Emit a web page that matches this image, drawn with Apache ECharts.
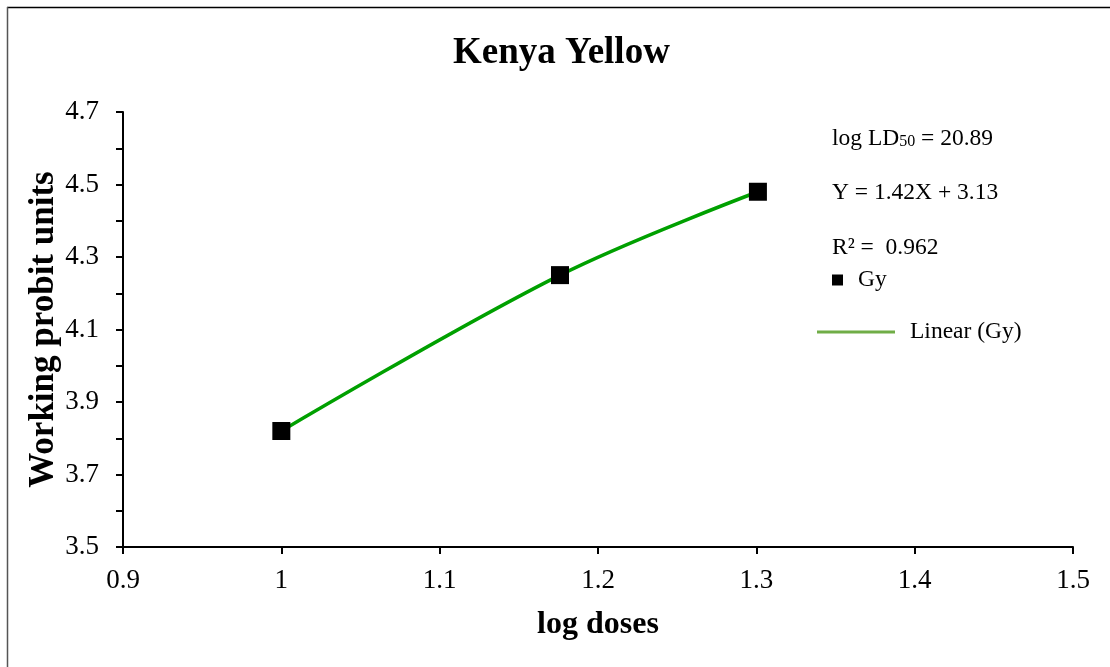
<!DOCTYPE html>
<html>
<head>
<meta charset="utf-8">
<title>Kenya Yellow</title>
<script src="https://cdn.jsdelivr.net/npm/echarts@6/dist/echarts.min.js"></script>
<style>
  html, body { margin: 0; padding: 0; background: #ffffff; }
  #chart { width: 1110px; height: 667px; }
</style>
</head>
<body>
<div id="chart"></div>
<script>
// Probit analysis data: log doses vs working probit units
const logDoses = [1.0, 1.176, 1.301];
const probits = [3.82, 4.25, 4.48];

// Regression summary printed beside the plot
const ld50Value = '20.89';
const slope = '1.42';
const intercept = '3.13';
const rSquared = '0.962';

const serif = '"Liberation Serif", "Times New Roman", serif';
const points = logDoses.map((x, i) => [x, probits[i]]);

const chart = echarts.init(document.getElementById('chart'), null, { renderer: 'canvas' });

chart.setOption({
  backgroundColor: '#ffffff',
  animation: false,
  title: {
    text: 'Kenya Yellow',
    left: 448,
    top: 30,
    textStyle: { fontFamily: serif, fontSize: 37, fontWeight: 'bold', color: '#000' }
  },
  grid: { left: 123, right: 37, top: 112, bottom: 120, containLabel: false },
  xAxis: {
    type: 'value',
    min: 0.9,
    max: 1.5,
    interval: 0.1,
    name: 'log doses',
    nameLocation: 'middle',
    nameGap: 62,
    nameMoveOverlap: false,
    nameTextStyle: { fontFamily: serif, fontSize: 32, fontWeight: 'bold', color: '#000' },
    axisLine: { show: true, onZero: false, lineStyle: { color: '#000', width: 2 } },
    axisTick: { show: true, inside: false, length: 7, lineStyle: { color: '#000', width: 2 } },
    axisLabel: {
      margin: 20,
      fontFamily: serif, fontSize: 27, color: '#000',
      formatter: v => String(+v.toFixed(1))
    },
    splitLine: { show: false }
  },
  yAxis: {
    type: 'value',
    min: 3.5,
    max: 4.7,
    interval: 0.1,
    name: 'Working probit units',
    nameLocation: 'middle',
    nameGap: 62,
    nameRotate: 90,
    nameMoveOverlap: false,
    nameTextStyle: { fontFamily: serif, fontSize: 35, fontWeight: 'bold', color: '#000' },
    axisLine: { show: true, onZero: false, lineStyle: { color: '#000', width: 2 } },
    axisTick: { show: true, inside: false, length: 7, lineStyle: { color: '#000', width: 2 } },
    axisLabel: {
      margin: 24,
      fontFamily: serif, fontSize: 27, color: '#000',
      formatter: v => (Math.round(v * 10) % 2 === 1 ? v.toFixed(1) : '')
    },
    splitLine: { show: false }
  },
  legend: [
    {
      data: [{ name: 'Gy', itemStyle: { color: '#000', opacity: 1, borderWidth: 0 } }],
      left: 832,
      top: 268,
      padding: 0,
      itemWidth: 11,
      itemHeight: 11,
      icon: 'rect',
      textStyle: { fontFamily: serif, fontSize: 23.5, color: '#000', padding: [0, 0, 0, 10] }
    },
    {
      data: [{
        name: 'Linear (Gy)',
        icon: 'path://M0,0 L78,0 L78,3 L0,3 Z',
        itemStyle: { color: '#70ad47' }
      }],
      left: 817,
      top: 320,
      padding: 0,
      itemWidth: 78,
      itemHeight: 3,
      textStyle: { fontFamily: serif, fontSize: 23.5, color: '#000', padding: [0, 0, 0, 10] }
    }
  ],
  series: [
    {
      name: 'Linear (Gy)',
      type: 'line',
      data: points,
      smooth: 0.35,
      symbol: 'none',
      lineStyle: { color: '#00a000', width: 3.5 },
      itemStyle: { color: '#00a000' },
      z: 2
    },
    {
      name: 'Gy',
      type: 'scatter',
      data: points,
      symbol: 'rect',
      symbolSize: 18,
      itemStyle: { color: '#000', opacity: 1 },
      z: 3
    }
  ],
  graphic: [
    // frame edges along the top and left
    { type: 'line', shape: { x1: 7, y1: 7.5, x2: 1110, y2: 7.5 }, style: { stroke: '#000', lineWidth: 1.5 } },
    { type: 'line', shape: { x1: 7.5, y1: 7, x2: 7.5, y2: 667 }, style: { stroke: '#555', lineWidth: 1.5 } },
    {
      type: 'text',
      left: 832,
      top: 127,
      style: {
        text: '{a|log LD}{b|50}{a| = ' + ld50Value + '}',
        rich: {
          a: { fontFamily: serif, fontSize: 23.5, fill: '#000', verticalAlign: 'bottom' },
          b: { fontFamily: serif, fontSize: 16, fill: '#000', verticalAlign: 'bottom', padding: [0, 0, 1, 0] }
        }
      }
    },
    {
      type: 'text',
      left: 832,
      top: 181,
      style: { text: 'Y = ' + slope + 'X + ' + intercept, font: '23.5px ' + serif, fill: '#000' }
    },
    {
      type: 'text',
      left: 832,
      top: 236,
      style: { text: 'R² =  ' + rSquared, font: '23.5px ' + serif, fill: '#000' }
    }
  ]
});
</script>
</body>
</html>
